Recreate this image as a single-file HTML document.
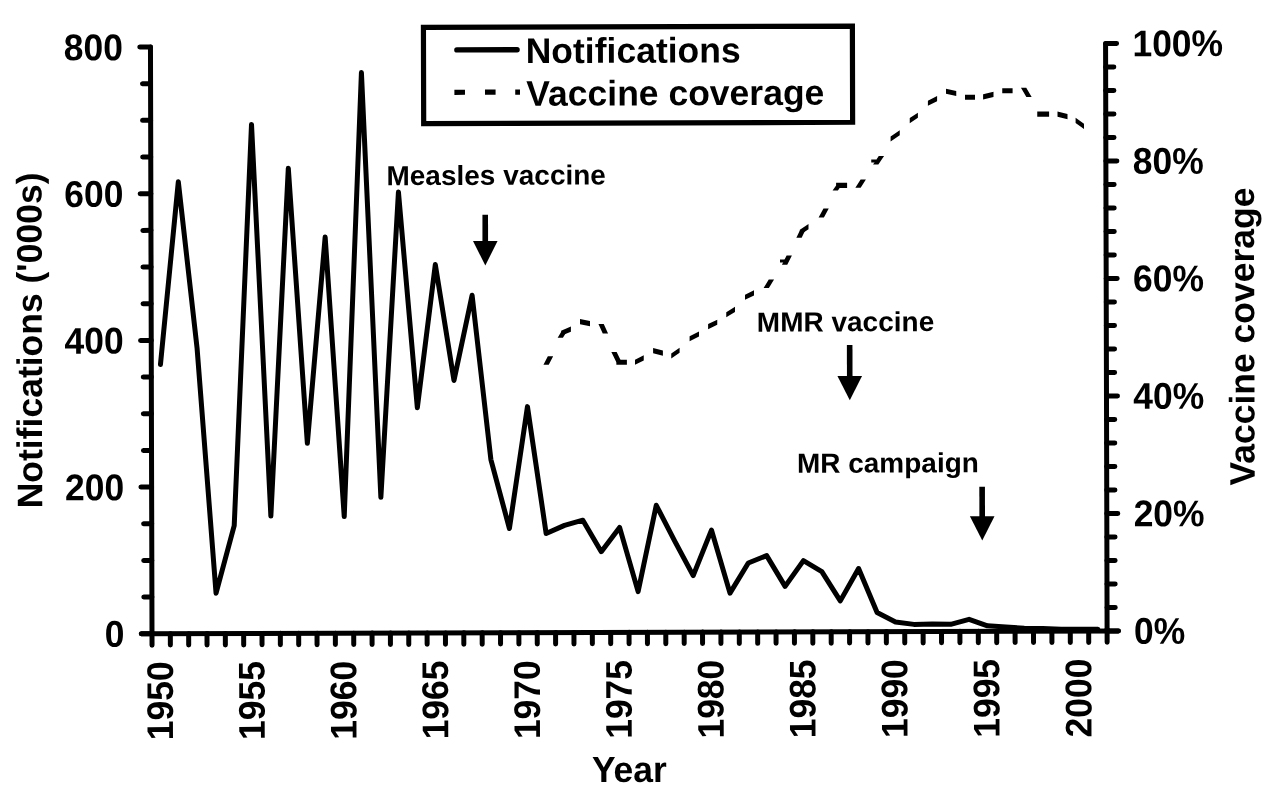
<!DOCTYPE html>
<html lang="en"><head><meta charset="utf-8"><title>Measles notifications and vaccine coverage</title>
<style>html,body{margin:0;padding:0;background:#fff;}body{width:1280px;height:804px;overflow:hidden;}svg{display:block;}text{font-family:"Liberation Sans",sans-serif;font-weight:bold;fill:#000;}</style>
</head><body>
<svg width="1280" height="804" viewBox="0 0 1280 804">
<rect width="1280" height="804" fill="#fff"/>
<g stroke="#000" stroke-width="5.0" stroke-linecap="round" stroke-linejoin="round" fill="none">
<path d="M150.47 47.00L152.00 633.75M1105.57 43.42L1107.10 630.93M141.30 633.78L1118.60 630.89"/>
<path d="M141.30 633.78L152.00 633.75M143.80 597.10L151.90 597.08M143.71 560.43L151.81 560.41M143.61 523.76L151.71 523.73M140.92 487.10L151.62 487.06M143.42 450.42L151.52 450.39M143.33 413.75L151.43 413.72M143.23 377.07L151.33 377.05M140.54 340.41L151.24 340.38M143.04 303.73L151.14 303.70M142.95 267.06L151.05 267.03M142.85 230.39L150.95 230.36M140.16 193.73L150.86 193.69M142.66 157.04L150.76 157.02M142.57 120.37L150.67 120.34M142.47 83.70L150.57 83.67M139.77 47.04L150.47 47.00"/>
<path d="M1107.10 630.93L1118.10 630.89M1107.04 607.43L1115.24 607.40M1106.98 583.93L1115.18 583.90M1106.92 560.43L1115.12 560.40M1106.86 536.93L1115.06 536.90M1106.79 513.43L1117.79 513.39M1106.73 489.93L1114.93 489.90M1106.67 466.43L1114.87 466.40M1106.61 442.93L1114.81 442.90M1106.55 419.43L1114.75 419.40M1106.49 395.93L1117.49 395.89M1106.43 372.43L1114.63 372.40M1106.37 348.93L1114.57 348.90M1106.31 325.43L1114.51 325.40M1106.25 301.93L1114.45 301.90M1106.18 278.43L1117.18 278.39M1106.12 254.93L1114.32 254.90M1106.06 231.43L1114.26 231.40M1106.00 207.93L1114.20 207.90M1105.94 184.43L1114.14 184.40M1105.88 160.93L1116.88 160.89M1105.82 137.43L1114.02 137.40M1105.76 113.93L1113.96 113.90M1105.70 90.42L1113.90 90.39M1105.64 66.92L1113.84 66.89M1105.57 43.42L1116.57 43.38"/>
<path d="M152.00 633.75L152.03 645.15M170.33 633.70L170.36 645.10M188.66 633.64L188.69 645.04M206.99 633.59L207.02 644.99M225.33 633.53L225.36 644.93M243.66 633.48L243.69 644.88M262.00 633.42L262.03 644.83M280.34 633.37L280.37 644.77M298.68 633.32L298.71 644.72M317.02 633.26L317.05 644.66M335.36 633.21L335.39 644.61M353.71 633.15L353.74 644.56M372.05 633.10L372.08 644.50M390.40 633.05L390.43 644.45M408.75 632.99L408.78 644.39M427.10 632.94L427.13 644.34M445.45 632.88L445.48 644.29M463.80 632.83L463.83 644.23M482.16 632.77L482.19 644.18M500.52 632.72L500.54 644.12M518.87 632.67L518.90 644.07M537.23 632.61L537.26 644.02M555.59 632.56L555.62 643.96M573.95 632.50L573.98 643.91M592.32 632.45L592.35 643.85M610.68 632.39L610.71 643.80M629.05 632.34L629.08 643.75M647.42 632.29L647.45 643.69M665.79 632.23L665.82 643.64M684.16 632.18L684.19 643.58M702.53 632.12L702.56 643.53M720.91 632.07L720.93 643.48M739.28 632.01L739.31 643.42M757.66 631.96L757.69 643.37M776.04 631.90L776.07 643.31M794.42 631.85L794.45 643.26M812.80 631.80L812.83 643.21M831.18 631.74L831.21 643.15M849.56 631.69L849.59 643.10M867.95 631.63L867.98 643.04M886.34 631.58L886.37 642.99M904.73 631.52L904.76 642.94M923.12 631.47L923.15 642.88M941.51 631.42L941.54 642.83M959.90 631.36L959.93 642.77M978.30 631.31L978.33 642.72M996.69 631.25L996.72 642.67M1015.09 631.20L1015.12 642.61M1033.49 631.14L1033.52 642.56M1051.89 631.09L1051.92 642.50M1070.29 631.03L1070.32 642.45M1088.69 630.98L1088.72 642.39M1107.10 630.93L1107.13 642.34"/>
<path d="M160.46 364.55L178.32 181.85L197.08 348.29L216.06 593.22L234.21 525.68L251.51 124.38L270.86 516.03L288.30 168.26L307.35 443.29L325.16 237.09L344.23 516.53L361.42 72.62L380.87 497.34L398.43 192.08L417.34 407.72L435.32 264.58L453.97 380.45L472.10 295.27L490.89 459.58L509.42 528.49L527.46 406.63L546.15 533.52L564.50 525.39L582.84 520.19L601.29 551.69L619.59 527.42L638.13 591.58L656.27 505.29L674.74 541.19L693.20 575.63L711.45 530.07L729.99 593.14L748.29 562.99L766.65 555.59L785.11 586.37L803.42 560.62L821.83 571.57L840.29 600.88L858.59 568.52L877.09 612.52L895.51 622.01L913.90 624.38L932.29 623.88L950.69 624.34L969.07 619.29L987.48 625.85L1005.88 627.11L1024.28 628.23L1042.68 628.40L1061.09 629.30L1079.49 629.25L1097.89 629.26"/>
</g>
<path d="M561.10 330.66L570.90 326.55V331.65L561.10 335.76ZM580.00 319.05L590.00 321.05V326.15L580.00 324.15ZM616.35 359.70L626.90 359.70V364.80L616.35 364.80ZM635.00 359.70L643.75 355.35V360.45L635.00 364.80ZM653.10 348.05L662.90 350.55V355.65L653.10 353.15ZM671.25 353.45L679.60 347.70V352.80L671.25 358.55ZM689.60 336.20L699.00 331.45V336.55L689.60 341.30ZM708.10 324.05L717.25 319.70V324.80L708.10 329.15ZM726.25 312.20L735.00 306.85V311.95L726.25 317.30ZM745.00 294.70L754.00 290.35V295.45L745.00 299.80ZM799.85 229.82L808.50 224.05V229.15L799.85 234.92ZM836.10 182.85L847.10 182.85V187.95L836.10 187.95ZM890.60 136.45L899.75 130.20V135.30L890.60 141.55ZM909.75 118.05L917.90 112.70V117.80L909.75 123.15ZM927.90 100.70L937.10 96.05V101.15L927.90 105.80ZM946.00 88.70L956.25 90.95V96.05L946.00 93.80ZM965.00 94.70L975.00 94.70V99.80L965.00 99.80ZM983.10 94.35L993.50 91.85V96.95L983.10 99.45ZM1002.25 88.25L1012.60 88.25V93.35L1002.25 93.35ZM1037.25 111.55L1049.10 111.55V116.65L1037.25 116.65ZM1057.50 111.55L1067.50 114.05V119.15L1057.50 116.65ZM1075.60 117.85L1084.00 123.85V128.95L1075.60 122.95ZM780 259.4H785V262.5H780ZM871.25 159.4H876.25V162.5H871.25Z" fill="#000"/>
<path d="M543.45 364.75H548.75L553.15 356.25H547.85ZM557.65 337.75H562.95L566.40 332.10H561.10ZM598.45 324.00H603.75L608.05 333.50H602.75ZM611.35 351.90H616.65L621.65 362.25H616.35ZM763.60 288.10H768.90L774.05 279.60H768.75ZM781.95 264.75H787.25L791.90 255.60H786.60ZM796.35 237.75H801.65L805.15 230.60H799.85ZM818.60 217.50H823.90L828.75 208.60H823.45ZM832.60 190.60H837.90L841.40 185.40H836.10ZM855.35 187.75H860.65L865.90 179.40H860.60ZM873.05 164.40H878.35L884.05 156.00H878.75ZM1020.95 87.75H1026.25L1031.65 96.90H1026.35Z" fill="#000"/>
<path d="M423.43 27.43L852.38 26.05L852.63 122.25L423.68 123.63Z" fill="none" stroke="#000" stroke-width="5.2" stroke-linejoin="miter"/>
<path d="M456.88 49.92L517.08 49.73" stroke="#000" stroke-width="5.4" stroke-linecap="round" fill="none"/>
<path d="M454.39 92.28L464.99 92.24M484.99 92.18L495.59 92.15M515.24 92.08L519.99 92.07" stroke="#000" stroke-width="5.2" fill="none"/>
<text transform="translate(525.72 63.10) rotate(-0.192)" font-size="35.5">Notifications</text>
<text transform="translate(526.33 105.70) rotate(-0.192)" font-size="35.5">Vaccine coverage</text>
<text transform="translate(124.53 646.79) rotate(-0.192) scale(1 1.044)" font-size="35.5" text-anchor="end">0</text>
<text transform="translate(124.15 500.11) rotate(-0.192) scale(1 1.044)" font-size="35.5" text-anchor="end">200</text>
<text transform="translate(123.77 353.43) rotate(-0.192) scale(1 1.044)" font-size="35.5" text-anchor="end">400</text>
<text transform="translate(123.39 206.74) rotate(-0.192) scale(1 1.044)" font-size="35.5" text-anchor="end">600</text>
<text transform="translate(123.01 60.06) rotate(-0.192) scale(1 1.044)" font-size="35.5" text-anchor="end">800</text>
<text transform="translate(1133.93 643.82) rotate(-0.192) scale(1 1.044)" font-size="35.5">0%</text>
<text transform="translate(1133.63 526.32) rotate(-0.192) scale(1 1.044)" font-size="35.5">20%</text>
<text transform="translate(1133.32 408.81) rotate(-0.192) scale(1 1.044)" font-size="35.5">40%</text>
<text transform="translate(1133.02 291.31) rotate(-0.192) scale(1 1.044)" font-size="35.5">60%</text>
<text transform="translate(1132.71 173.81) rotate(-0.192) scale(1 1.044)" font-size="35.5">80%</text>
<text transform="translate(1132.41 56.30) rotate(-0.192) scale(1 1.044)" font-size="35.5">100%</text>
<text transform="translate(173.10 740.14) rotate(-90.149) scale(1 1.044)" font-size="35.5">1950</text>
<text transform="translate(264.77 739.88) rotate(-90.149) scale(1 1.044)" font-size="35.5">1955</text>
<text transform="translate(356.47 739.63) rotate(-90.149) scale(1 1.044)" font-size="35.5">1960</text>
<text transform="translate(448.21 739.37) rotate(-90.149) scale(1 1.044)" font-size="35.5">1965</text>
<text transform="translate(539.99 739.11) rotate(-90.149) scale(1 1.044)" font-size="35.5">1970</text>
<text transform="translate(631.80 738.85) rotate(-90.149) scale(1 1.044)" font-size="35.5">1975</text>
<text transform="translate(723.65 738.59) rotate(-90.149) scale(1 1.044)" font-size="35.5">1980</text>
<text transform="translate(815.54 738.33) rotate(-90.149) scale(1 1.044)" font-size="35.5">1985</text>
<text transform="translate(907.47 738.07) rotate(-90.149) scale(1 1.044)" font-size="35.5">1990</text>
<text transform="translate(999.43 737.82) rotate(-90.149) scale(1 1.044)" font-size="35.5">1995</text>
<text transform="translate(1091.43 737.56) rotate(-90.149) scale(1 1.044)" font-size="35.5">2000</text>
<text transform="translate(41.84 340.35) rotate(-90.149)" font-size="35.5" text-anchor="middle">Notifications (&#39;000s)</text>
<text transform="translate(1254.24 336.57) rotate(-90.149)" font-size="35.5" text-anchor="middle">Vaccine coverage</text>
<text transform="translate(591.89 782.09) rotate(-0.192) scale(1 1.02)" font-size="35.5">Year</text>
<text transform="translate(386.44 185.15) rotate(-0.192) scale(1 0.99)" font-size="28.0">Measles vaccine</text>
<text transform="translate(756.82 331.66) rotate(-0.192) scale(1 0.99)" font-size="28.0">MMR vaccine</text>
<text transform="translate(796.89 472.84) rotate(-0.192) scale(1 0.99)" font-size="28.0">MR campaign</text>
<path d="M485.21 214.73L485.28 241.93" stroke="#000" stroke-width="5.6" fill="none"/><path d="M472.98 240.97L497.58 240.89L485.35 265.53Z" fill="#000"/>
<path d="M849.66 345.07L849.74 376.97" stroke="#000" stroke-width="5.6" fill="none"/><path d="M837.44 376.00L862.04 375.93L849.80 400.17Z" fill="#000"/>
<path d="M982.12 486.64L982.20 517.24" stroke="#000" stroke-width="5.6" fill="none"/><path d="M969.90 516.28L994.50 516.20L982.26 540.54Z" fill="#000"/>
</svg>
</body></html>
